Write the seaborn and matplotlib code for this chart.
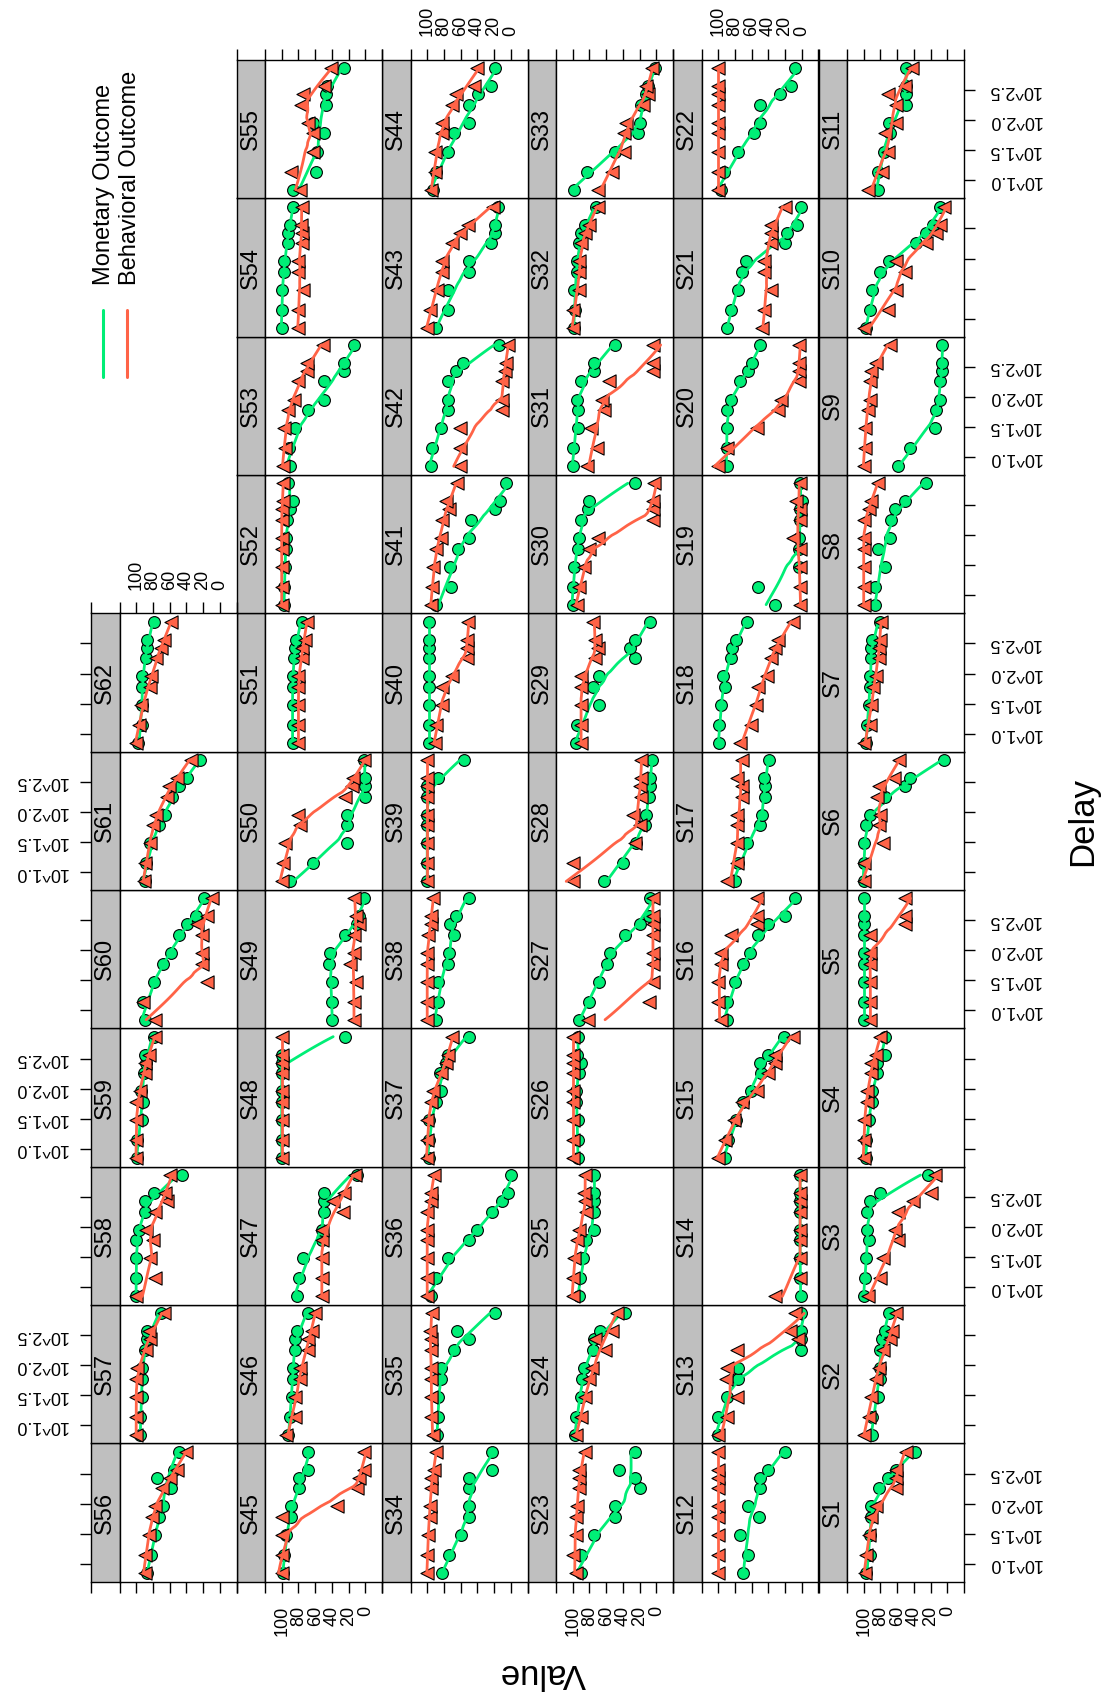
import numpy as np
import pandas as pd
import matplotlib
matplotlib.use("Agg")
import matplotlib.pyplot as plt
import seaborn as sns
from matplotlib.lines import Line2D
from matplotlib.ticker import NullLocator

# ---------------------------------------------------------------- data ------
DELAYS = [7, 14, 30, 60, 90, 180, 270, 365, 730]
SUBJECTS = [f"S{i}" for i in range(1, 63)]

# value at each delay, one row per subject
MONETARY = [
    [97, 93, 93, 91, 91, 82, 71, 61, 39],       # S1
    [90, 90, 83, 81, 81, 81, 78, 75, 70],       # S2
    [100, 99, 97, 94, 96, 96, 93, 80, 23],      # S3
    [97, 97, 94, 90, 90, 84, 84, 75, 75],       # S4
    [100, 100, 100, 100, 100, 100, 100, 100, 100],  # S5
    [100, 100, 100, 97, 93, 75, 51, 45, 4],     # S6
    [97, 96, 94, 92, 92, 91, 91, 90, 81],       # S7
    [86, 86, 74, 83, 69, 67, 62, 51, 26],       # S8
    [59, 45, 15, 13, 9, 9, 6, 6, 6],            # S9
    [97, 92, 90, 80, 70, 38, 26, 17, 9],        # S10
    [83, 83, 76, 69, 70, 49, 49, 50, 50],       # S11
    [70, 64, 74, 51, 64, 50, 50, 40, 20],       # S12
    [100, 100, 90, 76, 76, 1, 1, 1, 1],         # S13
    [1, 2, 2, 2, 2, 2, 2, 2, 2],                # S14
    [92, 88, 79, 70, 61, 49, 50, 40, 21],       # S15
    [90, 90, 80, 70, 62, 52, 40, 20, 8],        # S16
    [80, 76, 65, 50, 48, 44, 44, 45, 39],       # S17
    [99, 99, 97, 92, 94, 85, 83, 79, 65],       # S18
    [32, 52, 3, 3, 3, 2, 2, 0, 2],              # S19
    [90, 90, 90, 90, 85, 74, 64, 59, 50],       # S20
    [89, 85, 76, 72, 67, 20, 18, 6, 1],         # S21
    [97, 93, 76, 57, 50, 50, 26, 13, 8],        # S22
    [90, 90, 74, 49, 49, 20, 25, 45, 25],       # S23
    [97, 96, 90, 89, 86, 76, 74, 67, 38],       # S24
    [93, 91, 88, 84, 74, 74, 74, 74, 74],       # S25
    [94, 94, 94, 96, 96, 93, 90, 95, 94],       # S26
    [92, 81, 69, 59, 55, 38, 19, 9, 7],         # S27
    [63, 40, 24, 13, 12, 9, 8, 7, 5],           # S28
    [96, 95, 69, 76, 69, 25, 32, 25, 8],        # S29
    [100, 100, 99, 94, 92, 90, 82, 81, 25],     # S30
    [100, 100, 94, 94, 95, 90, 74, 75, 50],     # S31
    [99, 97, 98, 95, 95, 92, 90, 85, 72],       # S32
    [98, 83, 49, 22, 19, 18, 12, 10, 1],        # S33
    [82, 74, 59, 50, 50, 50, 50, 23, 23],       # S34
    [88, 87, 87, 84, 83, 68, 50, 64, 19],       # S35
    [96, 90, 75, 50, 40, 22, 11, 3, 0],         # S36
    [98, 98, 98, 89, 84, 85, 78, 75, 50],       # S37
    [90, 87, 87, 75, 74, 68, 73, 66, 50],       # S38
    [100, 100, 100, 100, 100, 100, 100, 87, 56],  # S39
    [98, 98, 98, 98, 98, 98, 98, 98, 98],       # S40
    [90, 71, 73, 63, 50, 48, 19, 13, 6],        # S41
    [96, 94, 84, 75, 75, 75, 66, 57, 14],       # S42
    [90, 75, 75, 50, 50, 24, 19, 19, 15],       # S43
    [93, 90, 75, 68, 50, 50, 39, 24, 19],       # S44
    [98, 97, 95, 89, 89, 79, 79, 68, 68],       # S45
    [92, 90, 88, 87, 87, 84, 84, 82, 68],       # S46
    [82, 79, 75, 52, 52, 50, 50, 49, 10],       # S47
    [100, 100, 100, 100, 100, 100, 100, 100, 24],  # S48
    [40, 40, 40, 44, 42, 24, 10, 7, 2],         # S49
    [90, 63, 22, 22, 22, 0, 0, 0, 2],           # S50
    [87, 87, 87, 87, 87, 85, 84, 83, 76],       # S51
    [97, 97, 96, 95, 95, 94, 90, 86, 93],       # S52
    [90, 91, 84, 68, 49, 49, 25, 25, 13],       # S53
    [100, 100, 100, 97, 97, 93, 93, 90, 86],    # S54
    [87, 59, 58, 49, 62, 47, 47, 46, 25],       # S55
    [87, 82, 78, 73, 68, 58, 75, 55, 49],       # S56
    [95, 95, 93, 93, 93, 89, 87, 87, 70],       # S57
    [100, 100, 100, 100, 97, 89, 89, 79, 45],   # S58
    [99, 99, 93, 92, 94, 91, 88, 90, 79],       # S59
    [89, 92, 79, 68, 58, 49, 39, 29, 19],       # S60
    [90, 88, 84, 73, 66, 57, 49, 39, 24],       # S61
    [98, 93, 93, 93, 93, 88, 87, 87, 79],       # S62
]

BEHAVIORAL = [
    [99, 97, 94, 91, 85, 61, 61, 61, 50],       # S1
    [100, 94, 91, 85, 82, 77, 69, 66, 61],      # S2
    [95, 81, 77, 59, 62, 59, 41, 19, 15],       # S3
    [100, 100, 100, 96, 96, 91, 91, 85, 80],    # S4
    [92, 92, 92, 92, 93, 92, 51, 51, 51],       # S5
    [100, 100, 77, 82, 80, 84, 82, 64, 58],     # S6
    [100, 92, 91, 89, 85, 82, 82, 81, 79],      # S7
    [100, 100, 100, 100, 100, 100, 94, 91, 83],  # S8
    [100, 99, 99, 95, 93, 93, 91, 85, 69],      # S9
    [100, 71, 61, 51, 61, 26, 14, 9, 4],        # S10
    [95, 78, 71, 74, 61, 61, 71, 51, 42],       # S11
    [100, 100, 100, 100, 100, 100, 100, 100, 100],  # S12
    [100, 90, 77, 91, 90, 77, 4, 14, 8],        # S13
    [32, 2, 2, 2, 2, 2, 2, 2, 2],               # S14
    [100, 92, 81, 71, 53, 40, 32, 32, 11],      # S15
    [97, 100, 100, 97, 97, 85, 53, 53, 53],     # S16
    [89, 77, 77, 77, 77, 71, 71, 77, 72],       # S17
    [74, 61, 55, 52, 42, 37, 32, 28, 11],       # S18
    [2, 2, 2, 2, 10, 2, 2, 7, 2],               # S19
    [100, 90, 53, 29, 25, 3, 3, 3, 3],          # S20
    [48, 45, 37, 45, 45, 37, 37, 37, 20],       # S21
    [100, 100, 100, 100, 100, 100, 100, 100, 100],  # S22
    [96, 100, 96, 96, 95, 92, 92, 92, 85],      # S23
    [96, 90, 85, 80, 77, 61, 73, 53, 47],       # S24
    [100, 100, 98, 95, 92, 84, 85, 86, 85],     # S25
    [100, 100, 100, 100, 100, 100, 100, 100, 100],  # S26
    [82, 9, 4, 4, 4, 4, 4, 4, 4],               # S27
    [100, 100, 26, 20, 28, 18, 20, 18, 18],     # S28
    [90, 90, 90, 90, 90, 73, 70, 73, 76],       # S29
    [95, 92, 86, 81, 70, 4, 4, 4, 3],           # S30
    [83, 71, 78, 63, 65, 57, 4, 4, 4],          # S31
    [100, 100, 92, 92, 92, 90, 85, 81, 70],     # S32
    [70, 53, 39, 39, 36, 16, 10, 12, 5],        # S33
    [100, 100, 99, 97, 97, 95, 95, 92, 89],     # S34
    [93, 95, 95, 95, 95, 96, 96, 97, 94],       # S35
    [100, 100, 100, 100, 100, 100, 96, 95, 92],  # S36
    [100, 100, 100, 95, 93, 83, 77, 75, 70],    # S37
    [100, 100, 100, 100, 100, 99, 95, 95, 93],  # S38
    [100, 100, 100, 100, 100, 100, 100, 100, 100],  # S39
    [91, 89, 82, 82, 70, 52, 52, 52, 51],       # S40
    [95, 94, 93, 89, 84, 82, 74, 77, 64],       # S41
    [61, 61, 61, 11, 11, 10, 7, 6, 3],          # S42
    [100, 97, 88, 82, 82, 70, 61, 51, 21],      # S43
    [95, 91, 91, 82, 82, 70, 65, 44, 41],       # S44
    [100, 100, 100, 100, 34, 10, 7, 2, 1],      # S45
    [95, 84, 84, 78, 78, 69, 69, 64, 60],       # S46
    [52, 52, 52, 52, 52, 27, 39, 26, 12],       # S47
    [100, 100, 100, 100, 100, 100, 100, 100, 100],  # S48
    [14, 14, 11, 18, 14, 14, 8, 11, 14],        # S49
    [100, 98, 96, 78, 80, 24, 16, 15, 2],       # S50
    [80, 80, 80, 80, 80, 76, 76, 72, 70],       # S51
    [100, 100, 100, 100, 100, 100, 100, 99, 98],  # S52
    [99, 96, 97, 93, 85, 80, 70, 70, 51],       # S53
    [81, 81, 75, 80, 80, 76, 76, 77, 76],       # S54
    [78, 89, 63, 63, 69, 77, 74, 50, 41],       # S55
    [90, 90, 85, 81, 77, 69, 59, 51, 41],       # S56
    [100, 100, 100, 100, 99, 88, 84, 85, 67],   # S57
    [100, 77, 83, 80, 88, 78, 63, 65, 59],      # S58
    [100, 100, 100, 100, 95, 90, 90, 85, 77],   # S59
    [77, 92, 15, 21, 21, 21, 27, 15, 9],        # S60
    [91, 89, 84, 80, 76, 63, 61, 51, 35],       # S61
    [100, 97, 94, 84, 82, 76, 70, 67, 58],      # S62
]

OUTCOMES = ["Monetary Outcome", "Behavioral Outcome"]
VALUE_TICKS = [-20, 0, 20, 40, 60, 80, 100, 120]
VALUE_LABELS = ["", "0", "20", "40", "60", "80", "100", ""]
DELAY_TICKS = [1.0, 1.5, 2.0, 2.5]
DELAY_LABELS = ["10^1.0", "10^1.5", "10^2.0", "10^2.5"]

# --------------------------------------------------------------- style ------
GREEN = "#00EE76"
RED = "#FF6347"
COLORS = {"Monetary Outcome": GREEN, "Behavioral Outcome": RED}
MARKERS = {"Monetary Outcome": "o", "Behavioral Outcome": "<"}
MSIZE = {"Monetary Outcome": 72, "Behavioral Outcome": 90}
STRIP_GREY = "#BFBFBF"

W, H = 1105, 1694
LEFT0, TOP0 = 91, 60
COL_W, ROW_H, STRIP_W = 145.5, 138.35, 28.5

sns.set_style("white", rc={"axes.edgecolor": "black", "xtick.color": "black",
                           "ytick.color": "black", "text.color": "black"})
plt.rcParams["font.family"] = ["Liberation Sans", "DejaVu Sans"]


def box(x, y, w, h):
    """pixel box (top-left origin) -> figure fraction rect"""
    return [x / W, 1 - (y + h) / H, w / W, h / H]


def loess_fit(x, y, span=2 / 3, n_eval=50):
    """local linear loess smooth (tricube weights), like panel.loess"""
    x = np.asarray(x, float)
    y = np.asarray(y, float)
    q = int(np.floor(len(x) * span))

    def local(x0):
        d = np.abs(x - x0)
        h = np.sort(d)[q - 1]
        u = d / h
        w = np.where(u < 1, (1 - u ** 3) ** 3, 0.0)
        sw = w.sum()
        xm = (w * x).sum() / sw
        ym = (w * y).sum() / sw
        sxx = (w * (x - xm) ** 2).sum()
        if sxx < 1e-12:
            return ym
        b = (w * (x - xm) * (y - ym)).sum() / sxx
        return ym + b * (x0 - xm)

    grid = np.linspace(x.min(), x.max(), n_eval)
    return grid, np.array([local(g) for g in grid])


rows = []
for subj, mon, beh in zip(SUBJECTS, MONETARY, BEHAVIORAL):
    for d, m, b in zip(DELAYS, mon, beh):
        rows.append((subj, OUTCOMES[0], d, m))
        rows.append((subj, OUTCOMES[1], d, b))
df = pd.DataFrame(rows, columns=["subject", "outcome", "delay", "value"])

fig = plt.figure(figsize=(W / 100, H / 100), dpi=100)
tick_kw = dict(length=8, width=1, direction="out", pad=9, labelsize=13)

for i, subj in enumerate(SUBJECTS):
    orow, ocol = divmod(i, 11)
    c = 5 - orow          # column in the picture (left -> right)
    r = 10 - ocol         # row in the picture (top -> bottom)
    x0 = LEFT0 + c * COL_W
    y0 = TOP0 + r * ROW_H
    sax = fig.add_axes(box(x0, y0, STRIP_W, ROW_H))
    ax = fig.add_axes(box(x0 + STRIP_W, y0, COL_W - STRIP_W, ROW_H))

    sub = df[df.subject == subj]
    for outcome in OUTCOMES:
        part = sub[sub.outcome == outcome]
        sns.scatterplot(data=part, x="value", y="delay", color=COLORS[outcome],
                        marker=MARKERS[outcome], s=MSIZE[outcome],
                        edgecolor="black", linewidth=0.8, zorder=2, ax=ax)
        gx, gy = loess_fit(np.log10(part.delay), part.value)
        fit = pd.DataFrame({"delay": 10 ** gx, "value": gy})
        sns.lineplot(data=fit, x="value", y="delay", orient="y", sort=True,
                     estimator=None, color=COLORS[outcome], lw=2, zorder=2, ax=ax)

    for a in (ax, sax):
        a.set_yscale("log")
        a.set_ylim(10 ** 0.70, 10 ** 3.0)
        a.yaxis.set_minor_locator(NullLocator())
        a.set_xlabel("")
        a.set_ylabel("")
        for sp in a.spines.values():
            sp.set_linewidth(1)
            sp.set_color("black")
    ax.set_xlim(120, -20)
    sax.set_xlim(0, 1)
    sax.set_facecolor(STRIP_GREY)
    sax.text(0.5, 0.5, subj, rotation=90, ha="center", va="center",
             fontsize=17, transform=sax.transAxes)

    is_bottom = r == 10
    is_top = r == 0 or (c == 0 and r == 4)

    ax.set_xticks(VALUE_TICKS, VALUE_LABELS)
    ax.tick_params(axis="x", bottom=is_bottom, top=is_top,
                   labelbottom=is_bottom and c in (1, 3, 5),
                   labeltop=is_top and c in (0, 2, 4),
                   labelrotation=90, **tick_kw)
    sax.set_xticks([0], [""])
    sax.tick_params(axis="x", bottom=is_bottom, top=is_top,
                    labelbottom=False, labeltop=False, **tick_kw)

    ytk = [10 ** t for t in DELAY_TICKS]
    if c == 5:
        ax.set_yticks(ytk, DELAY_LABELS)
        ax.tick_params(axis="y", left=False, right=True, labelleft=False,
                       labelright=(r % 2 == 0), labelrotation=180, **tick_kw)
    else:
        ax.set_yticks([])
    if c == 0:
        sax.set_yticks(ytk, DELAY_LABELS)
        sax.tick_params(axis="y", left=True, right=False, labelright=False,
                        labelleft=r in (5, 7, 9), labelrotation=180, **tick_kw)
    else:
        sax.set_yticks([])
    for a in (ax, sax):
        for t in a.yaxis.get_major_ticks():
            t.label1.set_va("center")
            t.label2.set_va("center")

# legend (key sits above the panels in the rotated layout)
for xl, xt, name in [(103, 104, OUTCOMES[0]), (127, 130, OUTCOMES[1])]:
    fig.add_artist(Line2D([xl / W, xl / W], [1 - 310 / H, 1 - 377 / H],
                          color=COLORS[name], lw=2.2, transform=fig.transFigure))
    fig.text(xt / W, 1 - 285 / H, name, rotation=90, ha="center", va="bottom",
             fontsize=17)

fig.text(1083 / W, 1 - 821 / H, "Delay", rotation=90, ha="center", va="center",
         fontsize=25)
fig.text(543 / W, 1 - 1673 / H, "Value", rotation=180, ha="center", va="center",
         fontsize=25)

fig.savefig("out.png", dpi=100, facecolor="white")
